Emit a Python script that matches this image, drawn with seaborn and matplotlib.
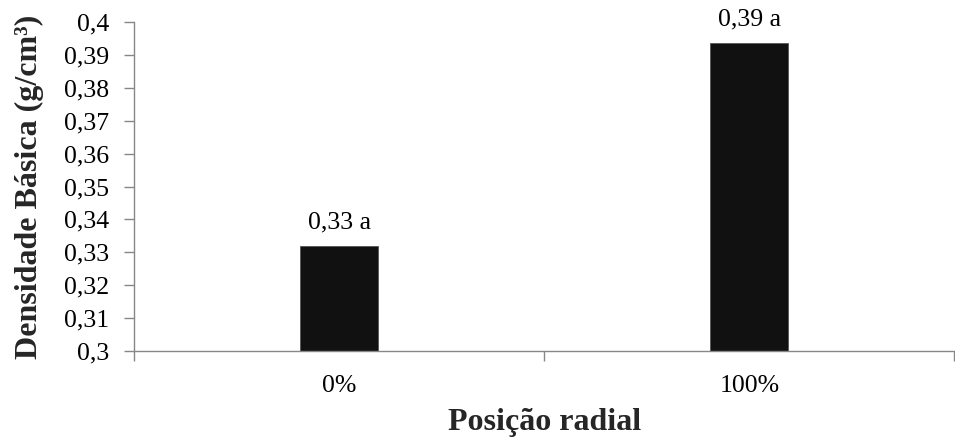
"""
plot.py — Bar chart of basic density by radial position.
"""

import matplotlib
matplotlib.use("Agg")
import matplotlib.pyplot as plt
from matplotlib.ticker import FixedLocator, FuncFormatter
import seaborn as sns

# Data
POSITIONS = ['0%', '100%']
DENSITY = [0.332, 0.3935]
LETTERS = ['a', 'a']

Y_TICKS = [0.30, 0.31, 0.32, 0.33, 0.34, 0.35, 0.36, 0.37, 0.38, 0.39, 0.40]

SPINE_GREY = '#878787'
TICK_SIZE = 18.5


def comma_fmt(v, pos=None):
    s = f"{v:.2f}".rstrip('0')
    return s.replace('.', ',')


def main():
    sns.set_theme(style="white")
    plt.rcParams['font.family'] = ['Liberation Serif', 'DejaVu Serif']

    fig = plt.figure(figsize=(9.55, 4.41), dpi=100)
    ax = fig.add_axes([0.1403, 0.204, 0.859, 0.746])

    sns.barplot(x=POSITIONS, y=DENSITY, color='#111111', width=0.19,
                edgecolor='#555555', linewidth=0.6, saturation=1, ax=ax)

    ax.set_ylim(0.3, 0.4)
    ax.set_xlim(-0.5, 1.5)

    # y axis
    ax.yaxis.set_major_locator(FixedLocator(Y_TICKS))
    ax.yaxis.set_major_formatter(FuncFormatter(comma_fmt))
    ax.tick_params(axis='y', which='major', left=True, direction='out',
                   length=7, width=1, color=SPINE_GREY, labelsize=TICK_SIZE,
                   labelcolor='black', pad=11)

    # x axis: boundary ticks (major) and centred labels (minor)
    ax.xaxis.set_major_locator(FixedLocator([-0.5, 0.5, 1.5]))
    ax.xaxis.set_major_formatter(FuncFormatter(lambda v, p: ''))
    ax.xaxis.set_minor_locator(FixedLocator([0, 1]))
    ax.xaxis.set_minor_formatter(FuncFormatter(lambda v, p: POSITIONS[int(round(v))]))
    ax.tick_params(axis='x', which='major', bottom=True, direction='out',
                   length=7, width=1, color=SPINE_GREY)
    ax.tick_params(axis='x', which='minor', bottom=True, length=0,
                   labelsize=TICK_SIZE, labelcolor='black', pad=17)

    for side in ['top', 'right']:
        ax.spines[side].set_visible(False)
    for side in ['left', 'bottom']:
        ax.spines[side].set_color(SPINE_GREY)
        ax.spines[side].set_linewidth(1)

    labels = [f"{round(v, 2):.2f} {l}".replace('.', ',')
              for v, l in zip(DENSITY, LETTERS)]
    ax.bar_label(ax.containers[0], labels=labels, padding=9,
                 fontsize=TICK_SIZE, color='black')

    ax.set_xlabel('Posição radial', fontsize=23, fontweight='bold', labelpad=8)
    ax.set_ylabel('Densidade Básica (g/cm³)', fontsize=23, fontweight='bold')
    ax.yaxis.set_label_coords(-0.11, 0.5)

    fig.savefig('out.png', dpi=100, facecolor='white')
    plt.close(fig)


if __name__ == '__main__':
    main()
